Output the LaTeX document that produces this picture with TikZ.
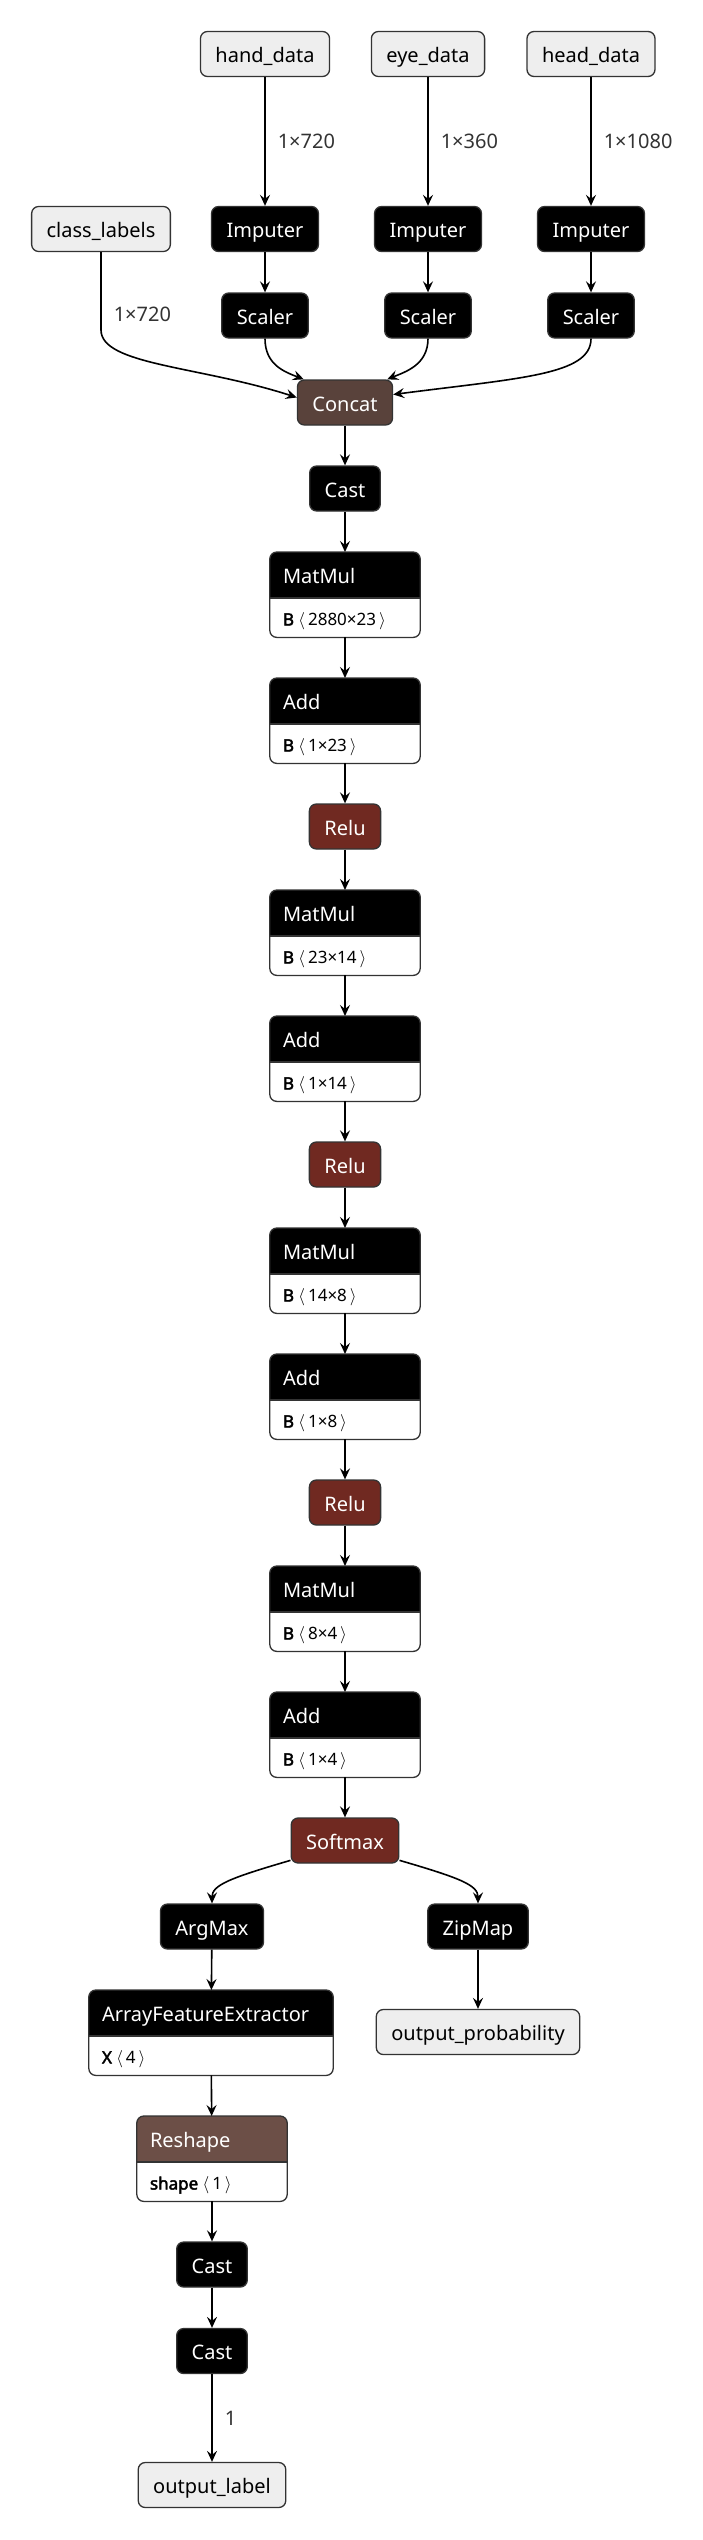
\documentclass[tikz,border=0pt]{standalone}
\usepackage{fontspec}
\setmainfont{Noto Sans}[BoldFont = Noto Sans, BoldFeatures = {FakeBold = 2.5}]
\usetikzlibrary{arrows.meta}

\definecolor{inputfill}{RGB}{238,238,238}
\definecolor{boxline}{RGB}{51,51,51}
\definecolor{tensorfill}{RGB}{89,66,59}
\definecolor{shapefill}{RGB}{108,79,71}
\definecolor{actfill}{RGB}{112,41,33}

\tikzset{
	io/.style = {draw = boxline, line width = 1.3pt, fill = inputfill, rounded corners = 7pt,
		minimum height = 45pt, inner xsep = 15pt, inner ysep = 0pt, text height = 17pt, text depth = 0pt},
	op/.style = {draw = boxline, line width = 1.3pt, fill = #1, text = white, rounded corners = 7pt,
		minimum height = 45pt, inner xsep = 15pt, inner ysep = 0pt, text height = 17pt, text depth = 0pt},
	op/.default = black,
	layer/.style = {minimum width = #1, minimum height = 85pt, inner sep = 0pt, anchor = north},
	layer/.default = 150pt,
	ltitle/.style = {anchor = west, inner sep = 0pt, text = white, text height = 17pt, text depth = 0pt},
	lattr/.style = {anchor = west, inner sep = 0pt, font = \fontsize{17}{20}\selectfont, text height = 16pt, text depth = 0pt},
	edge/.style = {line width = 1.6pt, -{Stealth[length = 11pt, width = 10pt, inset = 4pt]}},
	elabel/.style = {right, xshift = 12pt, inner sep = 0pt, text = black!80},
}

% header + attribute box around an empty layer node
\newcommand{\layerbox}[4]{
	\fill[white, rounded corners = 7pt] (#1.north west) rectangle (#1.south east);
	\begin{scope}
		\clip ([xshift = -2pt, yshift = 2pt]#1.north west) rectangle ([xshift = 2pt, yshift = -46pt]#1.north east);
		\fill[#2, rounded corners = 7pt] (#1.north west) rectangle (#1.south east);
	\end{scope}
	\draw[boxline, line width = 1.3pt, rounded corners = 7pt] (#1.north west) rectangle (#1.south east);
	\draw[boxline, line width = 1.3pt] ([yshift = -46pt]#1.north west) -- ([yshift = -46pt]#1.north east);
	\node[ltitle] (#1-title) at ([xshift = 13pt, yshift = -23pt]#1.north west) {#3};
	\node[lattr] (#1-attr) at ([xshift = 13pt, yshift = -65.5pt]#1.north west) {#4};
}
\newcommand{\dims}[1]{\ensuremath{\langle\,}#1\ensuremath{\,\rangle}}

\begin{document}
\begin{tikzpicture}[x = 1pt, y = -1pt, font = \fontsize{20}{24}\selectfont]
	\path[use as bounding box, fill = white] (0, 0) rectangle (702, 2540);

	% inputs
	\node[io] (hand) at (265, 54) {hand\_data};
	\node[io] (eye) at (428, 54) {eye\_data};
	\node[io] (head) at (591, 54) {head\_data};
	\node[io] (cls) at (101, 229) {class\_labels};

	\node[op] (imp1) at (265, 229) {Imputer};
	\node[op] (imp2) at (428, 229) {Imputer};
	\node[op] (imp3) at (591, 229) {Imputer};
	\node[op] (sc1) at (265, 315.5) {Scaler};
	\node[op] (sc2) at (428, 315.5) {Scaler};
	\node[op] (sc3) at (591, 315.5) {Scaler};

	\node[op = tensorfill] (concat) at (345, 402.5) {Concat};
	\node[op] (cast1) at (345, 488.5) {Cast};

	% dense layers
	\node[layer] (mm1) at (345, 552) {};
	\layerbox{mm1}{black}{MatMul}{\textbf{B}~\dims{2880×23}}
	\node[layer] (add1) at (345, 678) {};
	\layerbox{add1}{black}{Add}{\textbf{B}~\dims{1×23}}
	\node[op = actfill] (relu1) at (345, 826.5) {Relu};

	\node[layer] (mm2) at (345, 890) {};
	\layerbox{mm2}{black}{MatMul}{\textbf{B}~\dims{23×14}}
	\node[layer] (add2) at (345, 1016) {};
	\layerbox{add2}{black}{Add}{\textbf{B}~\dims{1×14}}
	\node[op = actfill] (relu2) at (345, 1164.5) {Relu};

	\node[layer] (mm3) at (345, 1228) {};
	\layerbox{mm3}{black}{MatMul}{\textbf{B}~\dims{14×8}}
	\node[layer] (add3) at (345, 1354) {};
	\layerbox{add3}{black}{Add}{\textbf{B}~\dims{1×8}}
	\node[op = actfill] (relu3) at (345, 1502.5) {Relu};

	\node[layer] (mm4) at (345, 1566) {};
	\layerbox{mm4}{black}{MatMul}{\textbf{B}~\dims{8×4}}
	\node[layer] (add4) at (345, 1692) {};
	\layerbox{add4}{black}{Add}{\textbf{B}~\dims{1×4}}
	\node[op = actfill] (softmax) at (345, 1840.5) {Softmax};

	% outputs
	\node[op] (argmax) at (212, 1926.5) {ArgMax};
	\node[op] (zipmap) at (478, 1926.5) {ZipMap};
	\node[layer = 244pt] (afe) at (211, 1990) {};
	\layerbox{afe}{black}{ArrayFeatureExtractor}{\textbf{X}~\dims{4}}
	\node[io] (outprob) at (478, 2032) {output\_probability};
	\node[layer] (reshape) at (212, 2116) {};
	\layerbox{reshape}{shapefill}{Reshape}{\textbf{shape}~\dims{1}}
	\node[op] (cast2) at (212, 2264.5) {Cast};
	\node[op] (cast3) at (212, 2351) {Cast};
	\node[io] (outlabel) at (212, 2485) {output\_label};

	% edges
	\draw[edge] (hand) -- node[elabel] {1×720} (imp1);
	\draw[edge] (eye) -- node[elabel] {1×360} (imp2);
	\draw[edge] (head) -- node[elabel] {1×1080} (imp3);
	\draw[edge] (imp1) -- (sc1);
	\draw[edge] (imp2) -- (sc2);
	\draw[edge] (imp3) -- (sc3);
	\draw[edge] (cls) -- node[elabel, pos = 0.8] {1×720} ++(0, 101) .. controls +(0, 35) and (200, 366) .. ([yshift = 5pt]concat.west);
	\draw[edge] (sc1) .. controls (265, 365) and (285, 372) .. ([xshift = 7pt]concat.north west);
	\draw[edge] (sc2) .. controls (428, 365) and (405, 372) .. ([xshift = -6pt]concat.north east);
	\draw[edge] (sc3) .. controls (591, 375) and (520, 378) .. ([yshift = 8pt]concat.east);
	\draw[edge] (concat) -- (cast1);
	\draw[edge] (cast1) -- (mm1);
	\draw[edge] (mm1) -- (add1);
	\draw[edge] (add1) -- (relu1);
	\draw[edge] (relu1) -- (mm2);
	\draw[edge] (mm2) -- (add2);
	\draw[edge] (add2) -- (relu2);
	\draw[edge] (relu2) -- (mm3);
	\draw[edge] (mm3) -- (add3);
	\draw[edge] (add3) -- (relu3);
	\draw[edge] (relu3) -- (mm4);
	\draw[edge] (mm4) -- (add4);
	\draw[edge] (add4) -- (softmax);
	\draw[edge] (softmax.200) .. controls (230, 1878) and (212, 1885) .. (argmax.north);
	\draw[edge] (softmax.340) .. controls (460, 1878) and (478, 1885) .. (zipmap.north);
	\draw[edge] (argmax) -- (afe);
	\draw[edge] (zipmap) -- (outprob);
	\draw[edge] (afe) -- (reshape);
	\draw[edge] (reshape) -- (cast2);
	\draw[edge] (cast2) -- (cast3);
	\draw[edge] (cast3) -- node[elabel] {1} (outlabel);
\end{tikzpicture}
\end{document}
